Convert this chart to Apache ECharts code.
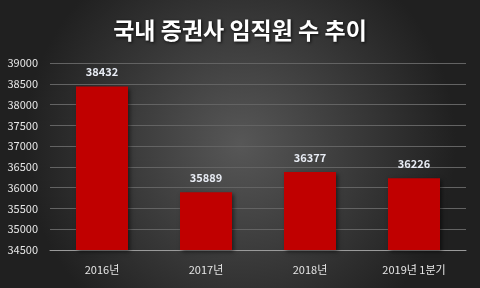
<!DOCTYPE html>
<html><head><meta charset="utf-8">
<script src="https://cdn.jsdelivr.net/npm/echarts@6/dist/echarts.min.js"></script>
<style>html,body{margin:0;padding:0;background:#333;}#c{width:480px;height:288px;}</style>
</head><body><div id="c"></div>
<script>
const categories = ['2016년', '2017년', '2018년', '2019년 1분기'];
const values = [38432, 35889, 36377, 36226];
const yMin = 34500, yMax = 39000, yStep = 500;
const title = '국내 증권사 임직원 수 추이';

const chart = echarts.init(document.getElementById('c'), null, {renderer: 'canvas'});
chart.setOption({
  backgroundColor: {
    type: 'radial', x: 0.5, y: 0.5, r: 0.75,
    colorStops: [{offset: 0, color: '#575757'}, {offset: 1, color: '#202020'}]
  },
  title: {
    text: title, left: 'center', top: 14,
    textStyle: {color: '#ffffff', fontSize: 23, fontWeight: 'bold',
      fontFamily: 'Noto Sans CJK KR', textShadowColor: 'rgba(0,0,0,0.8)', textShadowBlur: 3, textShadowOffsetX: 1, textShadowOffsetY: 1}
  },
  grid: {left: 50, right: 14, top: 63, bottom: 38, containLabel: false},
  xAxis: {
    type: 'category', data: categories,
    axisLine: {lineStyle: {color: '#9a9a9a', width: 1}},
    axisTick: {show: false},
    axisLabel: {color: '#e6e6e6', fontSize: 11, margin: 14, fontFamily: 'Noto Sans CJK KR'}
  },
  yAxis: {
    type: 'value', min: yMin, max: yMax, interval: yStep,
    axisLine: {show: false}, axisTick: {show: false},
    axisLabel: {color: '#e6e6e6', fontSize: 11, margin: 12, fontFamily: 'Noto Sans CJK KR',
      formatter: function (v) { return String(v); }},
    splitLine: {lineStyle: {color: '#636363', width: 1}}
  },
  series: [{
    type: 'bar', data: values, barWidth: '50%',
    itemStyle: {color: '#c00000', shadowColor: 'rgba(0,0,0,0.5)', shadowBlur: 4, shadowOffsetX: 2, shadowOffsetY: 2},
    label: {show: true, position: 'top', distance: 9, color: '#e8ecf4', fontSize: 11, fontWeight: 'bold', fontFamily: 'Noto Sans CJK KR'}
  }]
});
</script></body></html>
